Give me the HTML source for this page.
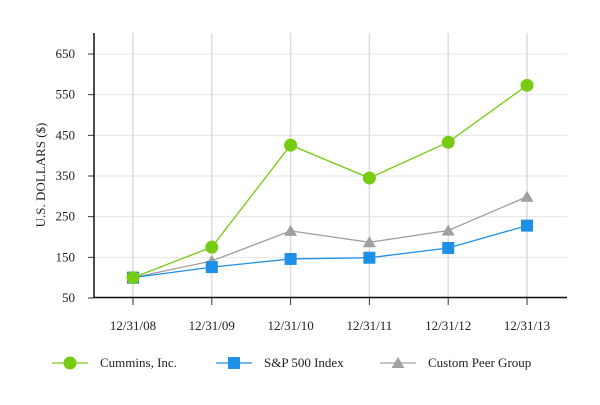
<!DOCTYPE html>
<html><head><meta charset="utf-8"><style>
body{margin:0;background:#fff;}
svg text{font-family:"Liberation Serif",serif;font-size:13px;fill:#222;}
</style></head><body>
<svg width="600" height="400" xmlns="http://www.w3.org/2000/svg">
<g id="grid"></g>
<g id="axes"></g>
<g id="series"></g>
<g id="legend"></g>
<text transform="translate(45,175) rotate(-90)" text-anchor="middle">U.S. DOLLARS ($)</text>
</svg>
<script>
const categories=["12/31/08","12/31/09","12/31/10","12/31/11","12/31/12","12/31/13"];
const cummins=[100,175,426,345,433,573];
const sp500=[100,126,146,149,173,228];
const peer=[100,141,215,187,216,299];
const yTicks=[50,150,250,350,450,550,650];
const seriesNames=["Cummins, Inc.","S&P 500 Index","Custom Peer Group"];
const NS="http://www.w3.org/2000/svg";
const x0=94,x1=567,yTop=33,yBot=297.5;
function xs(i){return 133+i*78.8;}
function ys(v){return 298-(v-50)*(244/600);}
function mk(t,a,p){const e=document.createElementNS(NS,t);for(const k in a)e.setAttribute(k,a[k]);p.appendChild(e);return e;}
const grid=document.getElementById('grid'),axes=document.getElementById('axes'),ser=document.getElementById('series'),leg=document.getElementById('legend');
yTicks.forEach(v=>{const y=ys(v);
 const l=mk('line',{x1:x0,x2:x1,y1:y,y2:y,stroke:'#e4e4e4','stroke-width':1},grid);
 
 mk('line',{x1:88,x2:x0,y1:y,y2:y,stroke:'#333'},axes);
 const t=mk('text',{x:75,y:y+4,'text-anchor':'end'},axes);t.textContent=v;
 });
categories.forEach((c,i)=>{const x=xs(i);
 const l=mk('line',{x1:x,x2:x,y1:yTop,y2:yBot,stroke:'#dcdcdc','stroke-width':1.5},grid);
 
 mk('line',{x1:x,x2:x,y1:yBot,y2:305,stroke:'#333'},axes);
 const t=mk('text',{x:x,y:330,'text-anchor':'middle'},axes);t.textContent=c;
 });
mk('line',{x1:x0,x2:x0,y1:yTop,y2:yBot,stroke:'#111','stroke-width':1.5},axes);
mk('line',{x1:x0,x2:x1,y1:yBot,y2:yBot,stroke:'#111','stroke-width':1.5},axes);
function marker(type,x,y,col,p){
 if(type==='circle')return mk('circle',{cx:x,cy:y,r:6.5,fill:col},p);
 if(type==='square')return mk('rect',{x:x-6,y:y-6,width:12,height:12,fill:col},p);
 return mk('polygon',{points:`${x},${y-6} ${x+6.5},${y+5} ${x-6.5},${y+5}`,fill:col},p);}
const defs=[[peer,'#a0a0a0','tri','peer-group'],[sp500,'#1e90e8','square','sp500'],[cummins,'#77cc11','circle','cummins']];
defs.forEach(([d,col,m,n])=>{const g=mk('g',{},ser);
 
 const pl=mk('polyline',{points:d.map((v,i)=>xs(i)+','+ys(v)).join(' '),fill:'none',stroke:col,'stroke-width':1.3},g);
 
 d.forEach((v,i)=>{const e=marker(m,xs(i),ys(v),col,g);
  });});
const legDefs=[[52,'#77cc11','circle'],[216,'#1e90e8','square'],[380,'#a0a0a0','tri']];
legDefs.forEach(([lx,col,m],i)=>{const g=mk('g',{},leg);
 
 mk('line',{x1:lx,x2:lx+36,y1:363,y2:363,stroke:col,'stroke-width':1.3},g);
 marker(m,lx+18,363,col,g);
 const t=mk('text',{x:lx+48,y:367},g);t.textContent=seriesNames[i];});
</script>
</body></html>
